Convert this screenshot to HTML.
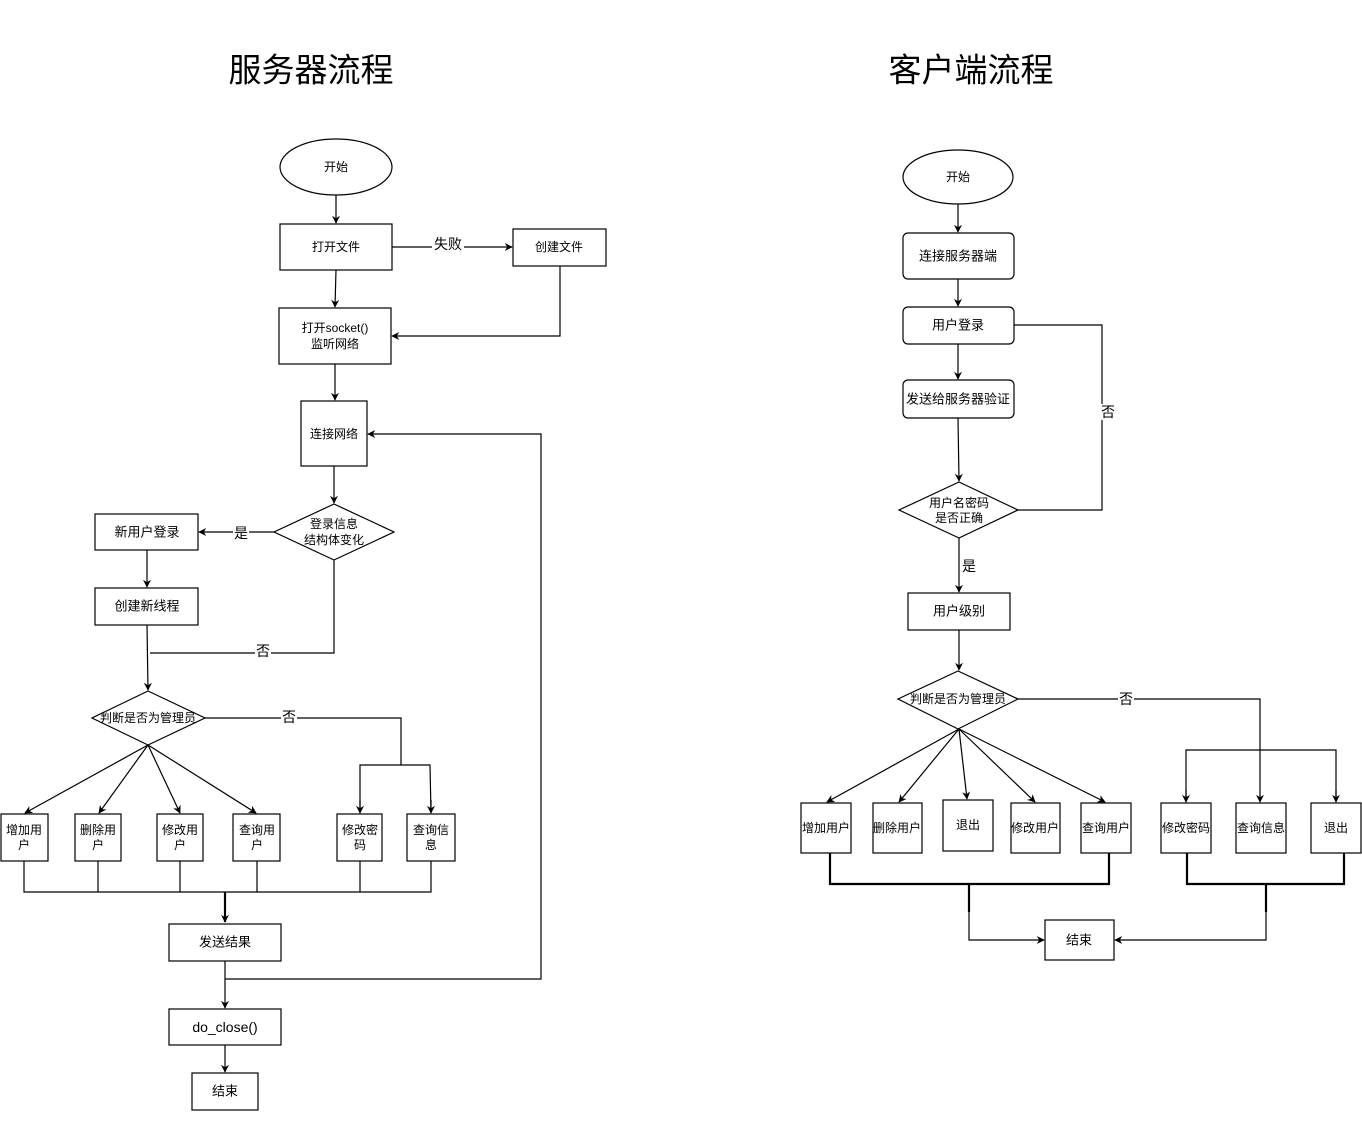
<!DOCTYPE html>
<html><head><meta charset="utf-8"><style>
html,body{margin:0;padding:0;background:#fff;}
svg text{font-family:"Liberation Sans","Noto Sans CJK SC",sans-serif;fill:#000;}
</style></head><body>
<svg width="1362" height="1128" viewBox="0 0 1362 1128" xmlns="http://www.w3.org/2000/svg">
<defs>
<marker id="a" viewBox="0 0 10 10" refX="9" refY="5" markerWidth="8" markerHeight="8" markerUnits="userSpaceOnUse" orient="auto"><path d="M0,0 L10,5 L0,10 L3,5 z" fill="#000"/></marker>
</defs>
<g fill="none" stroke="#000" stroke-width="1.2">
<!-- LEFT -->
<ellipse cx="336" cy="167" rx="56" ry="28" fill="#fff"/>
<line x1="336" y1="195" x2="336" y2="223" marker-end="url(#a)"/>
<rect x="280" y="224" width="112" height="46" fill="#fff"/>
<line x1="392" y1="247" x2="512" y2="247" marker-end="url(#a)"/>
<rect x="513" y="229" width="93" height="37" fill="#fff"/>
<polyline points="560,266 560,336 392,336" marker-end="url(#a)"/>
<line x1="336" y1="270" x2="335" y2="307" marker-end="url(#a)"/>
<rect x="279" y="308" width="112" height="56" fill="#fff"/>
<line x1="335" y1="364" x2="335" y2="400" marker-end="url(#a)"/>
<rect x="301" y="401" width="66" height="65" fill="#fff"/>
<polyline points="225,979 541,979 541,434 368,434" marker-end="url(#a)"/>
<line x1="334" y1="466" x2="334" y2="503" marker-end="url(#a)"/>
<polygon points="334,504 394,532 334,560 274,532" fill="#fff"/>
<line x1="274" y1="532" x2="199" y2="532" marker-end="url(#a)"/>
<rect x="95" y="514" width="103" height="36" fill="#fff"/>
<line x1="147" y1="550" x2="147" y2="587" marker-end="url(#a)"/>
<rect x="95" y="588" width="103" height="37" fill="#fff"/>
<polyline points="334,560 334,653 150,653"/>
<line x1="147" y1="625" x2="148" y2="690" marker-end="url(#a)"/>
<polygon points="148,691 205,718 148,745 92,718" fill="#fff"/>
<polyline points="205,718 401,718 401,765"/>
<polyline points="360,813 360,765 430,765 431,813" />
<line x1="360" y1="800" x2="360" y2="813" marker-end="url(#a)"/>
<line x1="431" y1="800" x2="431" y2="813" marker-end="url(#a)"/>
<line x1="148" y1="745" x2="25" y2="813" marker-end="url(#a)"/>
<line x1="148" y1="745" x2="99" y2="813" marker-end="url(#a)"/>
<line x1="148" y1="745" x2="180" y2="813" marker-end="url(#a)"/>
<line x1="148" y1="745" x2="256" y2="813" marker-end="url(#a)"/>
<rect x="1" y="814" width="47" height="47" fill="#fff"/>
<rect x="75" y="814" width="46" height="47" fill="#fff"/>
<rect x="157" y="814" width="46" height="47" fill="#fff"/>
<rect x="233" y="814" width="47" height="47" fill="#fff"/>
<rect x="337" y="814" width="45" height="47" fill="#fff"/>
<rect x="407" y="814" width="48" height="47" fill="#fff"/>
<polyline points="24,861 24,892 431,892 431,861"/>
<line x1="98" y1="861" x2="98" y2="892"/>
<line x1="180" y1="861" x2="180" y2="892"/>
<line x1="257" y1="861" x2="257" y2="892"/>
<line x1="360" y1="861" x2="360" y2="892"/>
<line x1="225" y1="892" x2="225" y2="922" stroke-width="2.2" marker-end="url(#a)"/>
<rect x="169" y="924" width="112" height="37" fill="#fff"/>
<line x1="225" y1="961" x2="225" y2="1008" marker-end="url(#a)"/>
<rect x="169" y="1009" width="112" height="36" fill="#fff"/>
<line x1="225" y1="1045" x2="225" y2="1072" marker-end="url(#a)"/>
<rect x="192" y="1073" width="66" height="37" fill="#fff"/>

<!-- RIGHT -->
<ellipse cx="958" cy="177" rx="55" ry="27" fill="#fff"/>
<line x1="958" y1="204" x2="958" y2="232" marker-end="url(#a)"/>
<rect x="903" y="233" width="111" height="46" rx="5" fill="#fff"/>
<line x1="958" y1="279" x2="958" y2="306" marker-end="url(#a)"/>
<rect x="903" y="307" width="111" height="37" rx="5" fill="#fff"/>
<line x1="958" y1="344" x2="958" y2="379" marker-end="url(#a)"/>
<rect x="903" y="380" width="111" height="38" rx="5" fill="#fff"/>
<line x1="958" y1="418" x2="959" y2="481" marker-end="url(#a)"/>
<polygon points="959,482 1018,510 959,538 899,510" fill="#fff"/>
<polyline points="1018,510 1102,510 1102,325 1014,325"/>
<line x1="959" y1="538" x2="959" y2="592" marker-end="url(#a)"/>
<rect x="908" y="593" width="102" height="37" fill="#fff"/>
<line x1="959" y1="630" x2="959" y2="670" marker-end="url(#a)"/>
<polygon points="958,671 1018,699 958,729 898,699" fill="#fff"/>
<polyline points="1018,699 1260,699 1260,802" marker-end="url(#a)"/>
<polyline points="1186,802 1186,750 1336,750 1336,802"/>
<line x1="1186" y1="790" x2="1186" y2="802" marker-end="url(#a)"/>
<line x1="1336" y1="790" x2="1336" y2="802" marker-end="url(#a)"/>
<line x1="959" y1="729" x2="827" y2="802" marker-end="url(#a)"/>
<line x1="959" y1="729" x2="899" y2="802" marker-end="url(#a)"/>
<line x1="959" y1="729" x2="967" y2="799" marker-end="url(#a)"/>
<line x1="959" y1="729" x2="1035" y2="802" marker-end="url(#a)"/>
<line x1="959" y1="729" x2="1105" y2="802" marker-end="url(#a)"/>
<rect x="801" y="803" width="50" height="50" fill="#fff"/>
<rect x="873" y="803" width="49" height="50" fill="#fff"/>
<rect x="943" y="800" width="50" height="51" fill="#fff"/>
<rect x="1011" y="803" width="49" height="50" fill="#fff"/>
<rect x="1081" y="803" width="50" height="50" fill="#fff"/>
<rect x="1161" y="803" width="50" height="50" fill="#fff"/>
<rect x="1236" y="803" width="50" height="50" fill="#fff"/>
<rect x="1311" y="803" width="50" height="50" fill="#fff"/>
<polyline points="830,853 830,884 1109,884 1109,853" stroke-width="2.2"/>
<line x1="969" y1="884" x2="969" y2="912" stroke-width="2.2"/>
<polyline points="969,912 969,940 1044,940" marker-end="url(#a)"/>
<rect x="1045" y="920" width="69" height="40" fill="#fff"/>
<polyline points="1187,853 1187,884 1344,884 1344,853" stroke-width="2.2"/>
<line x1="1266" y1="884" x2="1266" y2="912" stroke-width="2.2"/>
<polyline points="1266,912 1266,940 1115,940" marker-end="url(#a)"/>
</g>

<g font-size="12" text-anchor="middle" dominant-baseline="central">
<text x="311" y="70" font-size="33">服务器流程</text>
<text x="971" y="70" font-size="33">客户端流程</text>
<text x="336" y="167">开始</text>
<text x="336" y="247">打开文件</text>
<text x="559" y="247">创建文件</text>
<rect x="432" y="236" width="32" height="16" fill="#fff"/>
<text x="448" y="244" font-size="14">失败</text>
<text x="335" y="328">打开socket()</text>
<text x="335" y="344">监听网络</text>
<text x="334" y="434">连接网络</text>
<text x="334" y="524">登录信息</text>
<text x="334" y="540">结构体变化</text>
<rect x="233" y="525" width="16" height="16" fill="#fff"/>
<text x="241" y="533" font-size="14">是</text>
<text x="147" y="532" font-size="13">新用户登录</text>
<text x="147" y="606" font-size="13">创建新线程</text>
<rect x="255" y="643" width="16" height="16" fill="#fff"/>
<text x="263" y="651" font-size="14">否</text>
<text x="148" y="718">判断是否为管理员</text>
<rect x="281" y="709" width="16" height="16" fill="#fff"/>
<text x="289" y="717" font-size="14">否</text>
<text x="24" y="830">增加用</text><text x="24" y="845">户</text>
<text x="98" y="830">删除用</text><text x="98" y="845">户</text>
<text x="180" y="830">修改用</text><text x="180" y="845">户</text>
<text x="257" y="830">查询用</text><text x="257" y="845">户</text>
<text x="360" y="830">修改密</text><text x="360" y="845">码</text>
<text x="431" y="830">查询信</text><text x="431" y="845">息</text>
<text x="225" y="942" font-size="13">发送结果</text>
<text x="225" y="1027" font-size="14">do_close()</text>
<text x="225" y="1091" font-size="13">结束</text>

<text x="958" y="177">开始</text>
<text x="958" y="256" font-size="13">连接服务器端</text>
<text x="958" y="325" font-size="13">用户登录</text>
<text x="958" y="399" font-size="13">发送给服务器验证</text>
<rect x="1100" y="404" width="16" height="16" fill="#fff"/>
<text x="1108" y="412" font-size="14">否</text>
<text x="959" y="503">用户名密码</text>
<text x="959" y="518">是否正确</text>
<rect x="961" y="558" width="16" height="16" fill="#fff"/>
<text x="969" y="566" font-size="14">是</text>
<text x="959" y="611" font-size="13">用户级别</text>
<text x="958" y="699">判断是否为管理员</text>
<rect x="1118" y="691" width="16" height="16" fill="#fff"/>
<text x="1126" y="699" font-size="14">否</text>
<text x="826" y="828">增加用户</text>
<text x="897" y="828">删除用户</text>
<text x="968" y="825">退出</text>
<text x="1035" y="828">修改用户</text>
<text x="1106" y="828">查询用户</text>
<text x="1186" y="828">修改密码</text>
<text x="1261" y="828">查询信息</text>
<text x="1336" y="828">退出</text>
<text x="1079" y="940" font-size="13">结束</text>
</g>
</svg>
</body></html>
